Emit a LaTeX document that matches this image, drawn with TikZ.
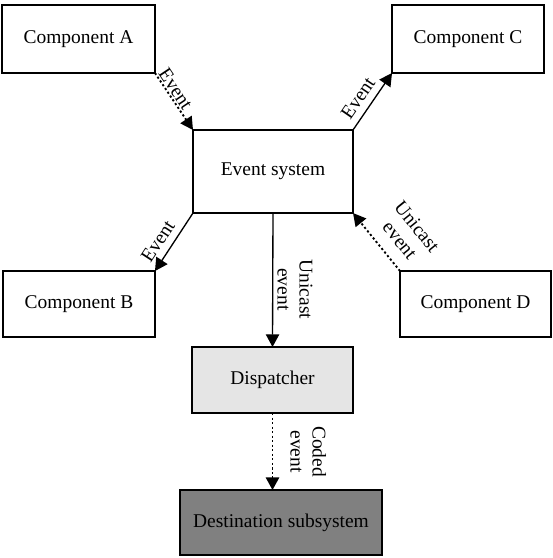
\documentclass[tikz,border=0pt]{standalone}
\usepackage{fontspec}
\setmainfont{Liberation Serif}
\usetikzlibrary{arrows.meta}
\newcommand{\diagramfont}{\fontsize{14.6}{16.5}\selectfont}
\tikzstyle{component}=[draw, line width=1.4pt, inner sep=0, outer sep=0, font=\diagramfont]
\tikzstyle{evlink}=[line width=1pt, -{Triangle[length=9.5pt, width=10pt]}]
\tikzstyle{evdotted}=[evlink, line width=1.4pt, dash pattern=on 1.6pt off 1.8pt]
\tikzstyle{evlabel}=[inner sep=1.5pt, outer sep=0, align=center, font=\diagramfont]
\tikzstyle{eventdiagram}=[x=0.75pt, y=-0.75pt,
                          % Keep the margins of the page.
                          execute at begin picture={\useasboundingbox (0, 0) rectangle (553, 558);}]

\begin{document}
\begin{tikzpicture}[eventdiagram]
        \node[component, minimum width=114.75pt, minimum height=51pt] (compA) at (78.5, 39) {Component A};
        \node[component, minimum width=114pt, minimum height=51pt] (compC) at (468, 39) {Component C};
        \node[component, minimum width=120pt, minimum height=62.25pt] (evsys) at (273, 171.5) {Event system};
        \node[component, minimum width=114pt, minimum height=49.5pt] (compB) at (79, 304) {Component B};
        \node[component, minimum width=113.25pt, minimum height=49.5pt] (compD) at (475.5, 304) {Component D};
        \node[component, fill=black!10, minimum width=120.75pt, minimum height=49.5pt] (disp) at (272.5, 380) {Dispatcher};
        \node[component, fill=black!50, minimum width=151.5pt, minimum height=48.75pt] (dest) at (281, 522.5) {Destination subsystem};
        \draw[evdotted] (compA.south east) -- node[evlabel, sloped, above, pos=0.36] {Event} (evsys.north west);
        \draw[evlink] (evsys.north east) -- node[evlabel, sloped, above=4pt, pos=0.42] {Event} (compC.south west);
        \draw[evlink] (evsys.south west) -- node[evlabel, sloped, above=4pt, pos=0.62] {Event} (compB.north east);
        \draw[evdotted] (compD.north west) -- node[evlabel, sloped, above=8pt, pos=0.32] {Unicast\\event} (evsys.south east);
        \draw[evlink] (evsys.south) -- node[evlabel, pos=0.57, xshift=2pt, rotate=-90, anchor=south] {Unicast\\event} (disp.north);
        \draw[evdotted] (disp.south) -- node[evlabel, pos=0.5, xshift=12pt, rotate=-90, anchor=south] {Coded\\event} (disp.south |- dest.north);
    \end{tikzpicture}
\end{document}
